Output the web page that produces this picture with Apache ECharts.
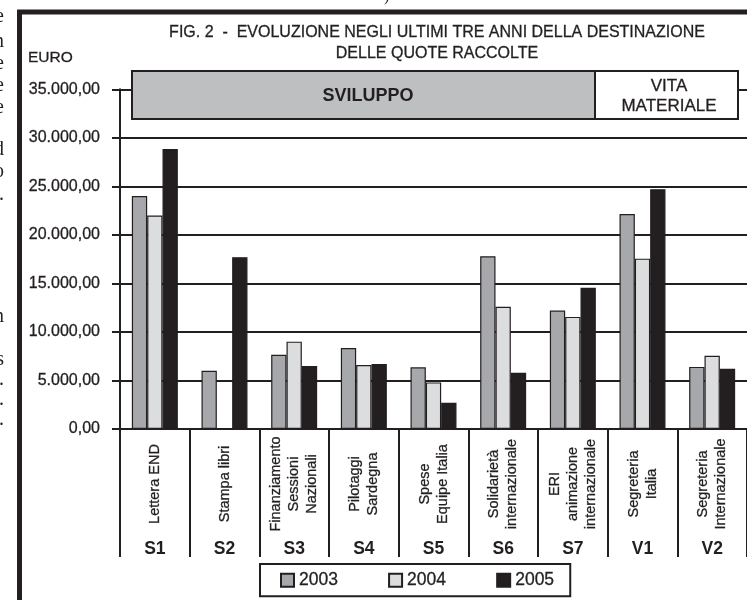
<!DOCTYPE html>
<html>
<head>
<meta charset="utf-8">
<script src="https://cdn.jsdelivr.net/npm/echarts@6/dist/echarts.min.js"></script>
<style>
  html, body { margin: 0; padding: 0; background: #fff; }
  #container { width: 747px; height: 600px; }
</style>
</head>
<body>
<div id="container"></div>
<script>
var dom = document.getElementById('container');
var myChart = echarts.init(dom, null, { renderer: 'canvas' });

const INK = '#231f20';
const FONT = '"Liberation Sans", Arial, sans-serif';

// data (euro)
const codes = ['S1', 'S2', 'S3', 'S4', 'S5', 'S6', 'S7', 'V1', 'V2'];
const names = [
    'Lettera END',
    'Stampa libri',
    'Finanziamento\nSessioni\nNazionali',
    'Pilotaggi\nSardegna',
    'Spese\nEquipe Italia',
    'Solidarietà\ninternazionale',
    'ERI\nanimazione\ninternazionale',
    'Segreteria\nItalia',
    'Segreteria\nInternazionale'
];
const years = ['2003', '2004', '2005'];
const v2003 = [24000, 6000, 7650, 8350, 6350, 17800, 12200, 22150, 6400];
const v2004 = [22000, 0, 9000, 6600, 4800, 12600, 11550, 17550, 7550];
const v2005 = [28850, 17700, 6500, 6700, 2700, 5800, 14550, 24700, 6200];
const yTicks = { min: 0, max: 35000, interval: 5000 };

const colors = ['#a7a8ab', '#dcdddf', INK];

function euro(v) {
    let s = String(Math.round(v)).replace(/\B(?=(\d{3})+(?!\d))/g, '.');
    return s + ',00';
}

// bits of the page text cut off at the left edge of the scan
const leftGlyphs = [['e', 17], ['n', 42], ['e', 64], ['e', 86], ['e', 108], ['d', 150], ['o', 172], ['.', 195], ['n', 317], ['s', 360], ['.', 380], ['.', 400], ['.', 420]];

// slight stroke to mimic the heavier printed type
const heavy = { textBorderColor: INK, textBorderWidth: 0.3 };

let graphics = [
    {
        type: 'rect', z: 100,
        shape: { x: 19.5, y: 12, width: 800, height: 700 },
        style: { fill: 'none', stroke: INK, lineWidth: 5 }
    },
    {
        type: 'text', z: 100, x: 437, y: 22,
        style: Object.assign({
            text: 'FIG. 2  -  EVOLUZIONE NEGLI ULTIMI TRE ANNI DELLA DESTINAZIONE\nDELLE QUOTE RACCOLTE',
            align: 'center', verticalAlign: 'top', lineHeight: 21,
            font: '16px ' + FONT, fill: INK
        }, { stroke: INK, lineWidth: 0.3 })
    },
    {
        type: 'text', z: 100, x: 28, y: 58,
        style: { text: 'EURO', verticalAlign: 'middle', font: '15.5px ' + FONT, fill: INK, stroke: INK, lineWidth: 0.3 }
    },
    {
        type: 'rect', z: 100,
        shape: { x: 132, y: 71, width: 463, height: 48 },
        style: { fill: '#bebfc1', stroke: INK, lineWidth: 2 }
    },
    {
        type: 'text', z: 101, x: 368, y: 96,
        style: { text: 'SVILUPPO', align: 'center', verticalAlign: 'middle', font: 'bold 18px ' + FONT, fill: INK }
    },
    {
        type: 'rect', z: 100,
        shape: { x: 595, y: 71, width: 143, height: 48 },
        style: { fill: '#fff', stroke: INK, lineWidth: 2 }
    },
    {
        type: 'text', z: 101, x: 669, y: 96,
        style: { text: 'VITA\nMATERIALE', align: 'center', verticalAlign: 'middle', lineHeight: 20, font: '17px ' + FONT, fill: INK, stroke: INK, lineWidth: 0.3 }
    },
    {
        type: 'text', z: 100, x: 384, y: -11,
        style: { text: ')', font: '16px "Liberation Serif", serif', fill: INK }
    }
];
leftGlyphs.forEach(function (g) {
    graphics.push({
        type: 'text', z: 100, x: 4, y: g[1],
        style: { text: g[0], align: 'right', verticalAlign: 'middle', font: '20px "Liberation Serif", serif', fill: INK }
    });
});

function barSeries(name, data, i) {
    return {
        name: name,
        type: 'bar',
        xAxisIndex: 0,
        data: data,
        barGap: '0%',
        barCategoryGap: '34%',
        itemStyle: { color: colors[i], borderColor: INK, borderWidth: 1.2 }
    };
}

var option = {
    animation: false,
    backgroundColor: '#fff',
    textStyle: { fontFamily: FONT },
    grid: { left: 120, top: 89.3, width: 632, bottom: 171 },
    legend: {
        data: years,
        left: 260, top: 564,
        orient: 'horizontal',
        icon: 'rect',
        itemWidth: 13, itemHeight: 13,
        itemGap: 50,
        padding: [7, 16, 7, 20],
        borderColor: INK, borderWidth: 2,
        textStyle: Object.assign({ fontSize: 17.5, color: INK, fontFamily: FONT }, heavy)
    },
    xAxis: [
        {
            type: 'category',
            data: names,
            position: 'bottom',
            axisLine: { lineStyle: { color: INK, width: 2 } },
            axisTick: { show: true, length: 128, lineStyle: { color: INK, width: 2 } },
            axisLabel: Object.assign({
                interval: 0, rotate: 90, margin: 55,
                align: 'center', verticalAlign: 'middle',
                fontSize: 14.5, lineHeight: 18, color: INK, fontFamily: FONT
            }, heavy)
        },
        {
            type: 'category',
            data: codes,
            position: 'bottom',
            axisLine: { show: false },
            axisTick: { show: false },
            axisLabel: {
                interval: 0, margin: 111,
                fontSize: 17.5, fontWeight: 'bold', color: INK, fontFamily: FONT
            }
        }
    ],
    yAxis: {
        type: 'value',
        min: yTicks.min, max: yTicks.max, interval: yTicks.interval,
        axisLine: { show: true, lineStyle: { color: INK, width: 2 } },
        axisTick: { show: true, length: 8, lineStyle: { color: INK, width: 2 } },
        splitLine: { show: true, lineStyle: { color: INK, width: 2.2 } },
        axisLabel: Object.assign({
            margin: 20, fontSize: 16, color: INK, fontFamily: FONT,
            formatter: euro
        }, heavy)
    },
    series: [
        barSeries('2003', v2003, 0),
        barSeries('2004', v2004, 1),
        barSeries('2005', v2005, 2)
    ],
    graphic: graphics
};

if (option && typeof option === 'object') {
    myChart.setOption(option);
}

window.addEventListener('resize', myChart.resize);
</script>
</body>
</html>
